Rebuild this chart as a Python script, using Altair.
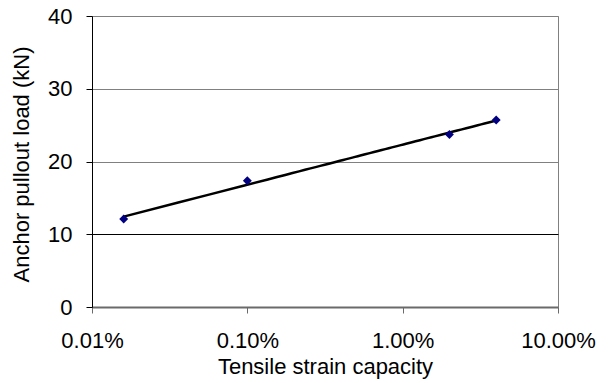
import altair as alt
import pandas as pd

# Tensile strain capacity (as a fraction) and measured anchor pullout load
strain = [0.00016, 0.001, 0.02, 0.04]
load_kn = [12.1, 17.35, 23.7, 25.7]

x_ticks = [0.0001, 0.001, 0.01, 0.1]
y_ticks = [0, 10, 20, 30, 40]

df = pd.DataFrame({"strain": strain, "load": load_kn})

FONT = "Liberation Sans"

x_enc = alt.X(
    "strain:Q",
    scale=alt.Scale(type="log", domain=[0.0001, 0.1]),
    axis=alt.Axis(
        values=x_ticks,
        format=".2%",
        title="Tensile strain capacity",
        grid=False,
        labelFlush=False,
        domainColor="#6a6a6a",
        domainWidth=2,
        tickColor="#6a6a6a",
        tickSize=6,
        labelPadding=17,
        titlePadding=5,
    ),
)
y_enc = alt.Y(
    "load:Q",
    scale=alt.Scale(domain=[0, 40], nice=False),
    axis=alt.Axis(
        values=y_ticks,
        title="Anchor pullout load (kN)",
        grid=True,
        gridColor=alt.condition("datum.value == 10", alt.value("#000000"), alt.value("#808080")),
        domainColor="#000000",
        tickColor="#000000",
        tickSize=6,
        labelPadding=14,
        titlePadding=14,
        titleY=148,
    ),
)

base = alt.Chart(df)

points = base.mark_point(
    shape="diamond", filled=True, color="#000080", size=80, opacity=1
).encode(x=x_enc, y=y_enc)

trend = (
    base.transform_regression(
        "strain", "load", method="log", extent=[0.00016, 0.04]
    )
    .mark_line(color="#000000", strokeWidth=2.5)
    .encode(x=x_enc, y=y_enc)
)

chart = (
    alt.layer(trend, points)
    .properties(
        width=466,
        height=291,
        autosize=alt.AutoSizeParams(type="none"),
        padding={"left": 92, "top": 16, "right": 50, "bottom": 76},
        background="white",
    )
    .configure_view(stroke="#808080", strokeWidth=1)
    .configure_axis(
        labelFont=FONT,
        titleFont=FONT,
        labelFontSize=22,
        titleFontSize=22,
        labelColor="#000000",
        titleColor="#000000",
        titleFontWeight="normal",
    )
)

chart.save("out.html", embed_options={"renderer": "svg", "actions": False})
